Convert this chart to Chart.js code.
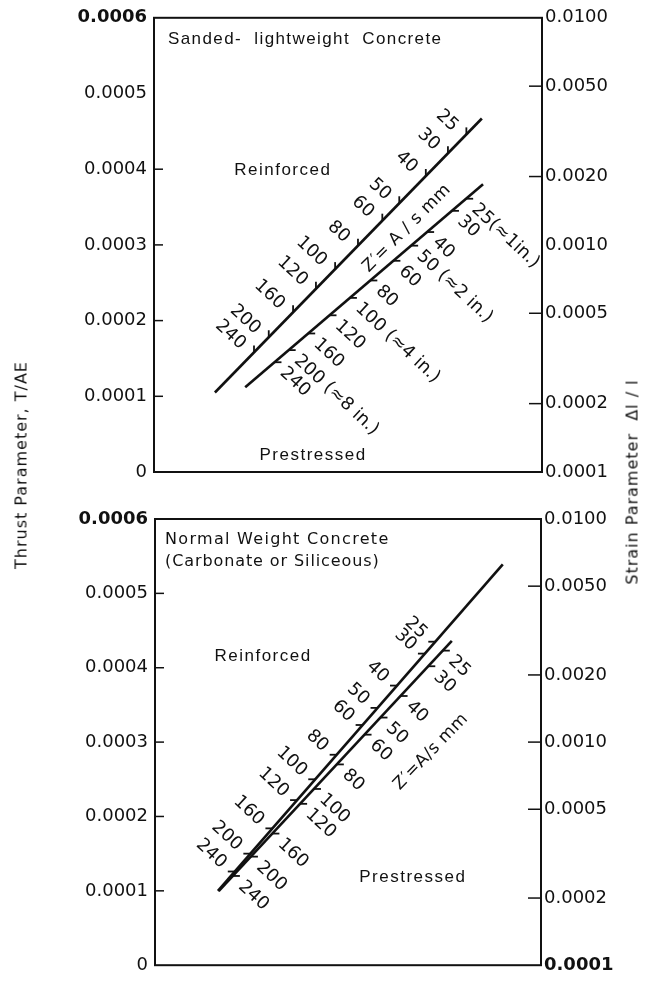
<!DOCTYPE html>
<html>
<head>
<meta charset="utf-8">
<script src="https://cdn.jsdelivr.net/npm/chart.js@4.4.1/dist/chart.umd.min.js"></script>
<style>
  html, body { margin: 0; padding: 0; background: #fff; }
  body { width: 653px; height: 983px; position: relative; overflow: hidden; font-family: 'DejaVu Sans', sans-serif; color: #111; }
  canvas { position: absolute; left: 0; }
  #c1 { top: 0; }
  #c2 { top: 490px; }
  .ytitle { position: absolute; white-space: nowrap; font-size: 16px; letter-spacing: 1px; transform: translate(-50%, -50%) rotate(-90deg); }
</style>
</head>
<body>
<canvas id="c1" width="653" height="490"></canvas>
<canvas id="c2" width="653" height="493"></canvas>
<div class="ytitle" style="left:21px; top:465px;">Thrust Parameter, T/AE</div>
<div class="ytitle" style="left:632px; top:482px;">Strain Parameter&nbsp; Δl / l</div>
<script>
// ---------- axis tick values ----------
const leftTickValues  = [0, 0.0001, 0.0002, 0.0003, 0.0004, 0.0005, 0.0006];
const rightTickValues = [0.0001, 0.0002, 0.0005, 0.0010, 0.0020, 0.0050, 0.0100];
const zValues = ['25', '30', '40', '50', '60', '80', '100', '120', '160', '200', '240'];

// ---------- panel 1 : sanded-lightweight concrete ----------
const lwReinforcedX  = [15.7, 84.5];
const lwReinforcedT  = [0.000105, 0.000467];
const lwPrestressedX = [23.5, 84.8];
const lwPrestressedT = [0.000112, 0.000380];
const lwReinforcedZT  = [0.000446, 0.000421, 0.000391, 0.000355, 0.000332, 0.000299, 0.000268, 0.000242, 0.000211, 0.000178, 0.000158];
const lwPrestressedZT = [0.000361, 0.000345, 0.000317, 0.000299, 0.000279, 0.000253, 0.000230, 0.000207, 0.000183, 0.000161, 0.000145];
const lwPrestressedZText = ['25(≈1in.)', '30', '40', '50 (≈2 in.)', '60', '80', '100 (≈4 in.)', '120', '160', '200 (≈8 in.)', '240'];
const lwLeftMarks  = [0.0001, 0.0002, 0.0003, 0.0004];
const lwRightMarks = [0.0002, 0.0005, 0.0020, 0.0050];

// ---------- panel 2 : normal weight concrete ----------
const nwReinforcedX  = [16.3, 90.1];
const nwReinforcedT  = [0.000100, 0.000539];
const nwPrestressedX = [16.5, 76.9];
const nwPrestressedT = [0.0000995, 0.000436];
const nwReinforcedZT  = [0.000435, 0.000419, 0.000376, 0.000346, 0.000323, 0.000283, 0.000250, 0.000222, 0.000184, 0.000150, 0.000126];
const nwPrestressedZT = [0.000423, 0.000402, 0.000362, 0.000333, 0.000310, 0.000270, 0.000237, 0.000217, 0.000177, 0.000146, 0.000120];
const nwLeftMarks  = [0.0001, 0.0002, 0.0003, 0.0004, 0.0005];
const nwRightMarks = [0.0002, 0.0005, 0.0010, 0.0020, 0.0050];

const INK = '#111';
const FONT_NUM = "'DejaVu Sans', sans-serif";
const FONT_TXT = "'Liberation Sans', Arial, sans-serif";

function pts(xs, ts) { return xs.map((x, i) => ({ x: x, y: ts[i] })); }

const nomoPlugin = {
  id: 'nomo',
  afterDatasetsDraw(chart, args, opts) {
    const ctx = chart.ctx;
    const xs = chart.scales.x, ys = chart.scales.y, yr = chart.scales.y2;
    const ca = chart.chartArea;
    const seg = (x0, y0, x1, y1) => { ctx.beginPath(); ctx.moveTo(x0, y0); ctx.lineTo(x1, y1); ctx.stroke(); };
    ctx.save();
    ctx.strokeStyle = INK; ctx.fillStyle = INK; ctx.lineCap = 'butt';
    // frame
    ctx.lineWidth = 2;
    ctx.strokeRect(ca.left, ca.top, ca.right - ca.left, ca.bottom - ca.top);
    // inward marks
    ctx.lineWidth = 1.5;
    opts.leftMarks.forEach(v => { const py = ys.getPixelForValue(v); seg(ca.left, py, ca.left + 9, py); });
    opts.rightMarks.forEach(v => { const py = yr.getPixelForValue(v); seg(ca.right - 13, py, ca.right, py); });
    // scales along lines
    chart.data.datasets.forEach(ds => {
      const n = ds.nomo; if (!n) return;
      const p0 = ds.data[0], p1 = ds.data[1];
      ctx.font = '18px ' + FONT_NUM;
      ctx.letterSpacing = '0px';
      n.values.forEach((T, i) => {
        const x = p0.x + (T - p0.y) * (p1.x - p0.x) / (p1.y - p0.y);
        const px = xs.getPixelForValue(x), py = ys.getPixelForValue(T);
        ctx.lineWidth = 1.8;
        seg(px, py, px + n.tick[0], py + n.tick[1]);
        ctx.save();
        ctx.translate(px + n.offset[0], py + n.offset[1]);
        ctx.rotate(n.angle * Math.PI / 180);
        ctx.textAlign = n.align; ctx.textBaseline = 'middle';
        ctx.fillText(n.text[i], 0, 0);
        ctx.restore();
      });
    });
    // notes
    opts.notes.forEach(t => {
      ctx.save();
      ctx.font = t.font;
      ctx.letterSpacing = t.ls || '0px';
      ctx.translate(xs.getPixelForValue(t.x), ys.getPixelForValue(t.y));
      ctx.rotate((t.angle || 0) * Math.PI / 180);
      ctx.textAlign = t.align || 'center'; ctx.textBaseline = 'middle';
      ctx.fillText(t.text, 0, 0);
      ctx.restore();
    });
    ctx.restore();
  }
};

function makeChart(id, cfg) {
  return new Chart(document.getElementById(id), {
    type: 'line',
    data: {
      datasets: [
        { data: pts(cfg.rX, cfg.rT), nomo: cfg.rNomo },
        { data: pts(cfg.pX, cfg.pT), nomo: cfg.pNomo }
      ].map(d => Object.assign(d, { borderColor: INK, borderWidth: 2.6, pointRadius: 0, fill: false, tension: 0, yAxisID: 'y' }))
    },
    options: {
      responsive: false,
      animation: false,
      events: [],
      layout: { padding: { left: 0, right: 0, top: cfg.padTop, bottom: cfg.padBottom } },
      plugins: { legend: { display: false }, tooltip: { enabled: false }, nomo: cfg.plugin },
      scales: {
        x: { type: 'linear', min: 0, max: 100, display: false },
        y: {
          type: 'linear', position: 'left', min: 0, max: 0.0006,
          grid: { display: false, drawTicks: false },
          border: { display: false },
          afterBuildTicks: s => { s.ticks = leftTickValues.map(v => ({ value: v })); },
          afterFit: s => { s.width = cfg.leftW; },
          ticks: {
            padding: 7, color: INK,
            callback: v => v === 0 ? '0' : v.toFixed(4),
            font: c => ({ family: FONT_NUM, size: 18, weight: (c.tick && c.tick.value === 0.0006) ? 'bold' : 'normal' })
          }
        },
        y2: {
          type: 'logarithmic', position: 'right', min: 0.0001, max: 0.01,
          grid: { display: false, drawTicks: false },
          border: { display: false },
          afterBuildTicks: s => { s.ticks = rightTickValues.map(v => ({ value: v })); },
          afterFit: s => { s.width = cfg.rightW; },
          ticks: {
            padding: 3, color: INK,
            callback: v => v.toFixed(4),
            font: c => ({ family: FONT_NUM, size: 18, weight: (c.tick && c.tick.value === cfg.boldRight) ? 'bold' : 'normal' })
          }
        }
      }
    },
    plugins: [nomoPlugin]
  });
}

const reinfStyle = { tick: [0, -7], offset: [-11, -6], align: 'right', angle: 43 };
const preStyle   = { tick: [7, 0],  offset: [8, 8],   align: 'left',  angle: 43 };

makeChart('c1', {
  rX: lwReinforcedX, rT: lwReinforcedT, pX: lwPrestressedX, pT: lwPrestressedT,
  rNomo: Object.assign({ values: lwReinforcedZT, text: zValues }, reinfStyle),
  pNomo: Object.assign({ values: lwPrestressedZT, text: lwPrestressedZText }, preStyle),
  padTop: 16, padBottom: 18, leftW: 154, rightW: 111, boldRight: -1,
  plugin: {
    leftMarks: lwLeftMarks, rightMarks: lwRightMarks,
    notes: [
      { text: 'Sanded-  lightweight  Concrete', x: 3.6, y: 0.000572, align: 'left', font: '17px ' + FONT_TXT, ls: '1.4px' },
      { text: 'Reinforced', x: 33.2, y: 0.000399, font: '17px ' + FONT_TXT, ls: '1.5px' },
      { text: 'Prestressed', x: 41.0, y: 0.000022, font: '17px ' + FONT_TXT, ls: '1.5px' },
      { text: 'Z′= A / s mm', x: 65.2, y: 0.000322, angle: -45, font: '17px ' + FONT_NUM, ls: '0.5px' }
    ]
  }
});

makeChart('c2', {
  rX: nwReinforcedX, rT: nwReinforcedT, pX: nwPrestressedX, pT: nwPrestressedT,
  rNomo: Object.assign({ values: nwReinforcedZT, text: zValues }, reinfStyle, { tick: [-7, 0] }),
  pNomo: Object.assign({ values: nwPrestressedZT, text: zValues }, preStyle),
  padTop: 29, padBottom: 13, leftW: 155, rightW: 112, boldRight: 0.0001,
  plugin: {
    leftMarks: nwLeftMarks, rightMarks: nwRightMarks,
    notes: [
      { text: 'Normal Weight Concrete', x: 2.6, y: 0.000572, align: 'left', font: '16px ' + FONT_NUM, ls: '1.3px' },
      { text: '(Carbonate or Siliceous)', x: 2.6, y: 0.000543, align: 'left', font: '16px ' + FONT_NUM, ls: '0.9px' },
      { text: 'Reinforced', x: 28.0, y: 0.000416, font: '17px ' + FONT_TXT, ls: '1.5px' },
      { text: 'Prestressed', x: 66.8, y: 0.000118, font: '17px ' + FONT_TXT, ls: '1.5px' },
      { text: 'Z′=A/s mm', x: 71.5, y: 0.000287, angle: -46, font: '17px ' + FONT_NUM, ls: '0.5px' }
    ]
  }
});
</script>
</body>
</html>
